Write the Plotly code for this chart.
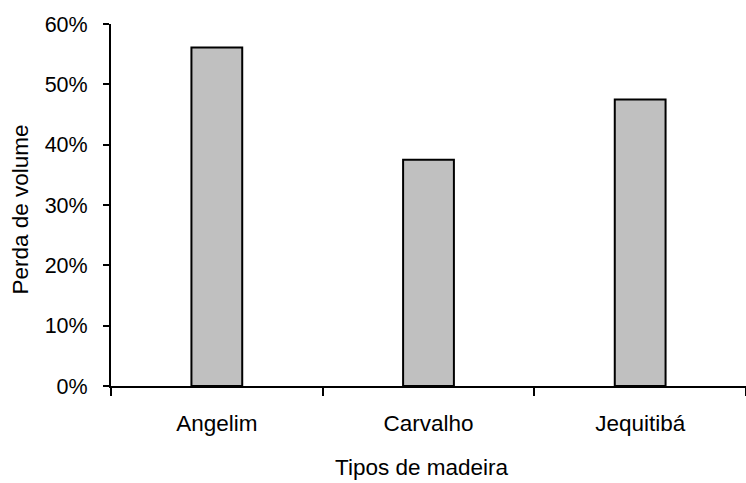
import plotly.graph_objects as go

# Perda de volume por tipo de madeira
madeiras = ["Angelim", "Carvalho", "Jequitibá"]
perda = [0.561, 0.375, 0.475]
y_ticks = [0, 0.1, 0.2, 0.3, 0.4, 0.5, 0.6]

FONT = "Liberation Sans, Arial, sans-serif"
FS = 22.5

fig = go.Figure(
    go.Bar(
        x=madeiras,
        y=perda,
        width=0.24,
        marker=dict(color="#C0C0C0", line=dict(color="#000000", width=2)),
        hoverinfo="x+y",
    )
)

fig.update_layout(
    width=746,
    height=483,
    margin=dict(l=111, r=0, t=24, b=97),
    paper_bgcolor="white",
    plot_bgcolor="white",
    showlegend=False,
    font=dict(family=FONT, size=FS, color="#000000"),
)

fig.update_xaxes(
    range=[-0.5, 2.5],
    showline=True,
    linecolor="black",
    linewidth=2,
    ticks="outside",
    tickson="boundaries",
    ticklen=8,
    tickwidth=2,
    tickcolor="black",
    ticklabelstandoff=16,
    showgrid=False,
    zeroline=False,
    tickfont=dict(family=FONT, size=FS),
)

fig.update_yaxes(
    range=[0, 0.6],
    tickvals=y_ticks,
    tickformat=".0%",
    showline=True,
    linecolor="black",
    linewidth=2,
    ticks="outside",
    ticklen=6,
    tickwidth=2,
    tickcolor="black",
    ticklabelstandoff=11,
    showgrid=False,
    zeroline=False,
    tickfont=dict(family=FONT, size=21.5),
)

# Axis titles
fig.add_annotation(
    text="Tipos de madeira",
    xref="paper", yref="paper",
    x=(421 - 111) / 635, y=-(468 - 386.5) / 362,
    xanchor="center", yanchor="middle",
    showarrow=False,
    font=dict(family=FONT, size=FS),
)
fig.add_annotation(
    text="Perda de volume",
    xref="paper", yref="paper",
    x=-(111 - 20) / 635, y=(386.5 - 210) / 362,
    xanchor="center", yanchor="middle",
    textangle=-90,
    showarrow=False,
    font=dict(family=FONT, size=FS),
)

fig.write_html("out.html")
